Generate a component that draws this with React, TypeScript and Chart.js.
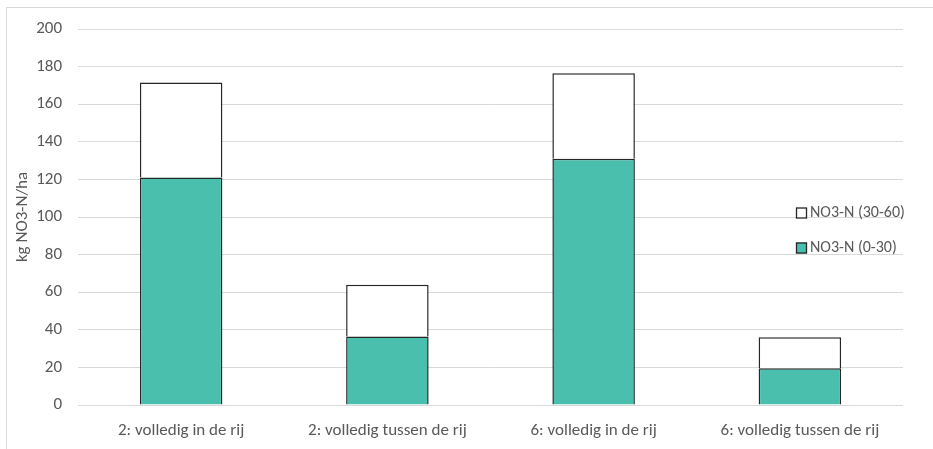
import React, { useEffect, useRef } from "react";
import { Chart, registerables } from "chart.js";

Chart.register(...registerables);

const categories = [
  "2: volledig in de rij",
  "2: volledig tussen de rij",
  "6: volledig in de rij",
  "6: volledig tussen de rij",
];
const layer0to30 = [121, 36.5, 131, 19.5];
const layer30to60 = [50.5, 27.5, 45.5, 16.5];
const seriesNames = ["NO3-N (0-30)", "NO3-N (30-60)"];
const seriesColors = ["#4bbfae", "#ffffff"];
const yTicks = [0, 20, 40, 60, 80, 100, 120, 140, 160, 180, 200];

const FONT = "Carlito, Calibri, Lato, 'Open Sans', sans-serif";
const TEXT = "#595959";
const FS = 17;

const legendPlugin = {
  id: "insideLegend",
  afterDraw(chart: any) {
    const { ctx, chartArea } = chart;
    const items = chart.data.datasets
      .map((d: any, i: number) => ({ d, i }))
      .reverse();
    ctx.save();
    ctx.font = `16px ${FONT}`;
    ctx.textBaseline = "middle";
    ctx.textAlign = "left";
    const x = chartArea.right - 107;
    items.forEach((it: any, k: number) => {
      const y = chartArea.top + 184 + k * 35;
      ctx.fillStyle = it.d.backgroundColor;
      ctx.fillRect(x, y - 5.5, 11, 11);
      ctx.strokeStyle = "#262626";
      ctx.lineWidth = 1.3;
      ctx.strokeRect(x + 0.5, y - 5, 10, 10);
      ctx.fillStyle = TEXT;
      ctx.fillText(it.d.label, x + 14, y);
    });
    ctx.restore();
  },
};

export default function App() {
  const ref = useRef<HTMLCanvasElement | null>(null);
  useEffect(() => {
    if (!ref.current) return;
    const chart = new Chart(ref.current, {
      type: "bar",
      data: {
        labels: categories,
        datasets: [
          {
            label: seriesNames[0],
            data: layer0to30,
            backgroundColor: seriesColors[0],
            borderColor: "#262626",
            borderWidth: 1.5,
            barPercentage: 0.4,
            categoryPercentage: 1,
          },
          {
            label: seriesNames[1],
            data: layer30to60,
            backgroundColor: seriesColors[1],
            borderColor: "#262626",
            borderWidth: 1.5,
            barPercentage: 0.4,
            categoryPercentage: 1,
          },
        ],
      },
      options: {
        animation: false,
        responsive: false,
        maintainAspectRatio: false,
        layout: { padding: { top: 29, right: 30, bottom: 0, left: 0 } },
        plugins: {
          legend: { display: false },
          tooltip: { enabled: false },
        },
        scales: {
          x: {
            stacked: true,
            grid: { display: false, drawTicks: false },
            border: { display: false },
            ticks: {
              color: TEXT,
              font: { family: FONT, size: FS },
              padding: 16,
              maxRotation: 0,
            },
            afterFit(scale: any) {
              scale.height = 44;
            },
          },
          y: {
            stacked: true,
            min: 0,
            max: 200,
            afterBuildTicks(scale: any) {
              scale.ticks = yTicks.map((v) => ({ value: v }));
            },
            grid: { color: "#d9d9d9", lineWidth: 1, drawTicks: false },
            border: { display: false },
            ticks: {
              color: TEXT,
              font: { family: FONT, size: FS },
              padding: 16,
            },
            title: {
              display: true,
              text: "kg NO3-N/ha",
              color: TEXT,
              font: { family: FONT, size: FS },
              padding: { top: 13, bottom: 0 },
            },
            afterFit(scale: any) {
              scale.width = 78;
            },
          },
        },
      },
      plugins: [legendPlugin],
    });
    return () => chart.destroy();
  }, []);

  return (
    <div
      style={{
        position: "absolute",
        left: 0,
        top: 0,
        width: 933,
        height: 449,
        overflow: "hidden",
        background: "#fff",
      }}
    >
      <div
        style={{
          position: "absolute",
          left: 6,
          top: 7,
          width: 960,
          height: 480,
          border: "1px solid #d9d9d9",
        }}
      />
      <canvas
        ref={ref}
        width={933}
        height={449}
        style={{ position: "absolute", left: 0, top: 0 }}
      />
    </div>
  );
}
